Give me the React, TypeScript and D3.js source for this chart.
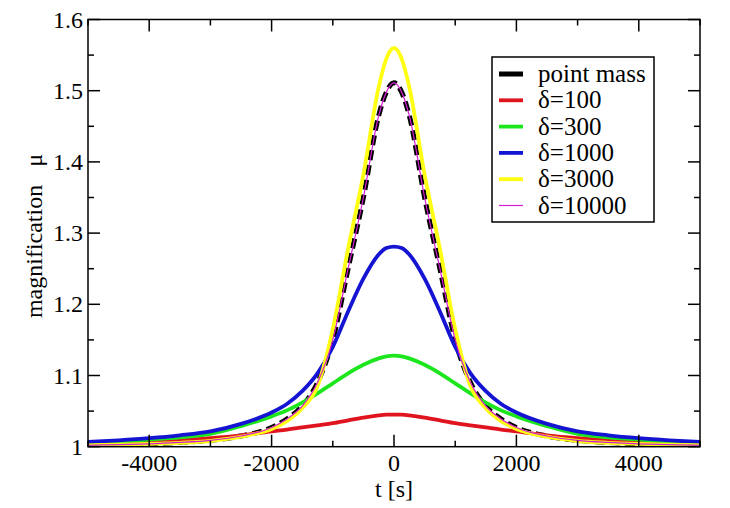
import * as d3 from 'd3';

const T_VALUES = [
  -5000, -4500, -4000, -3500, -3000, -2500, -2000, -1750, -1500, -1250, -1000, -750, -500, -250, -125,
  0, 125, 250, 500, 750, 1000, 1250, 1500, 1750, 2000, 2500, 3000, 3500, 4000, 4500, 5000,
];

const POINT_MASS = [
  1.002, 1.003, 1.004, 1.006, 1.009, 1.015, 1.027, 1.039, 1.057, 1.09, 1.15, 1.25, 1.35, 1.465, 1.498,
  1.511, 1.498, 1.465, 1.35, 1.25, 1.15, 1.09, 1.057, 1.039, 1.027, 1.015, 1.009, 1.006, 1.004, 1.003, 1.002,
];
const DELTA_100 = [
  1.003, 1.0045, 1.006, 1.009, 1.012, 1.016, 1.0215, 1.024, 1.027, 1.03, 1.033, 1.037, 1.041, 1.044, 1.045,
  1.045, 1.045, 1.044, 1.041, 1.037, 1.033, 1.03, 1.027, 1.024, 1.0215, 1.016, 1.012, 1.009, 1.006, 1.0045, 1.003,
];
const DELTA_300 = [
  1.005, 1.007, 1.0098, 1.013, 1.018, 1.029, 1.0426, 1.051, 1.062, 1.075, 1.089, 1.103, 1.115, 1.124, 1.127,
  1.128, 1.127, 1.124, 1.115, 1.103, 1.089, 1.075, 1.062, 1.051, 1.0426, 1.029, 1.018, 1.013, 1.0098, 1.007, 1.005,
];
const DELTA_1000 = [
  1.0066, 1.009, 1.012, 1.016, 1.0215, 1.032, 1.048, 1.06, 1.078, 1.103, 1.14, 1.19, 1.236, 1.27, 1.279,
  1.281, 1.279, 1.27, 1.236, 1.19, 1.14, 1.103, 1.078, 1.06, 1.048, 1.032, 1.0215, 1.016, 1.012, 1.009, 1.0066,
];
const DELTA_3000 = [
  1.002, 1.003, 1.004, 1.0055, 1.008, 1.014, 1.025, 1.036, 1.054, 1.085, 1.165, 1.278, 1.382, 1.505, 1.545,
  1.56, 1.545, 1.505, 1.382, 1.278, 1.165, 1.085, 1.054, 1.036, 1.025, 1.014, 1.008, 1.0055, 1.004, 1.003, 1.002,
];
const DELTA_10000 = [
  1.002, 1.003, 1.004, 1.006, 1.009, 1.015, 1.027, 1.039, 1.057, 1.09, 1.15, 1.25, 1.35, 1.465, 1.498,
  1.511, 1.498, 1.465, 1.35, 1.25, 1.15, 1.09, 1.057, 1.039, 1.027, 1.015, 1.009, 1.006, 1.004, 1.003, 1.002,
];

const X_MAJOR = [-4000, -2000, 0, 2000, 4000];
const X_MINOR = [-5000, -3000, -1000, 1000, 3000, 5000];
const Y_MAJOR = [1, 1.1, 1.2, 1.3, 1.4, 1.5, 1.6];
const Y_MINOR = [1.05, 1.15, 1.25, 1.35, 1.45, 1.55];
const Y_LABELS = ['1', '1.1', '1.2', '1.3', '1.4', '1.5', '1.6'];

const SERIES = [
  { label: 'point mass', values: POINT_MASS, color: '#000000', width: 5, dash: '10,5' },
  { label: 'δ=100', values: DELTA_100, color: '#e0141e', width: 3.8, dash: null },
  { label: 'δ=300', values: DELTA_300, color: '#1ee61e', width: 3.8, dash: null },
  { label: 'δ=1000', values: DELTA_1000, color: '#1414d2', width: 3.8, dash: null },
  { label: 'δ=3000', values: DELTA_3000, color: '#ffff14', width: 3.8, dash: null },
  { label: 'δ=10000', values: DELTA_10000, color: '#d21ed2', width: 1.2, dash: null },
];

const W = 730;
const H = 508;
const margin = { left: 88, right: 30, top: 19.5, bottom: 61.3 };
const FONT = '"Liberation Serif", "Times New Roman", Times, Tinos, "Nimbus Roman", "Nimbus Roman No9 L", "Noto Serif", "DejaVu Serif", FreeSerif, serif';

export default function App() {
  const x = d3.scaleLinear().domain([-5000, 5000]).range([margin.left, W - margin.right]);
  const y = d3.scaleLinear().domain([1, 1.6]).range([H - margin.bottom, margin.top]);
  const [x0, x1] = x.range();
  const [y0, y1] = y.range();

  const line = (vals: number[]) =>
    d3.line<number>()
      .x((_, i) => x(T_VALUES[i]))
      .y(v => y(v))
      .curve(d3.curveMonotoneX)(vals) || '';

  const legendX = 492;
  const legendY = 57;

  return (
    <svg width={W} height={H} style={{ position: 'absolute', left: 0, top: 0, background: '#fff' }}>
      <defs>
        <clipPath id="plot">
          <rect x={x0} y={y1} width={x1 - x0} height={y0 - y1} />
        </clipPath>
      </defs>

      {/* curves */}
      <g clipPath="url(#plot)">
        {SERIES.map(s => (
          <path key={s.label} d={line(s.values)} fill="none" stroke={s.color}
            strokeWidth={s.width} strokeDasharray={s.dash || undefined} />
        ))}
      </g>

      {/* frame */}
      <rect x={x0} y={y1} width={x1 - x0} height={y0 - y1} fill="none" stroke="#000" strokeWidth={1.5} />

      {/* ticks, all four sides, inward */}
      {X_MAJOR.map(t => (
        <g key={'xM' + t}>
          <line x1={x(t)} x2={x(t)} y1={y0} y2={y0 - 12} stroke="#000" strokeWidth={1.5} />
          <line x1={x(t)} x2={x(t)} y1={y1} y2={y1 + 12} stroke="#000" strokeWidth={1.5} />
        </g>
      ))}
      {X_MINOR.map(t => (
        <g key={'xm' + t}>
          <line x1={x(t)} x2={x(t)} y1={y0} y2={y0 - 6} stroke="#000" strokeWidth={1.5} />
          <line x1={x(t)} x2={x(t)} y1={y1} y2={y1 + 6} stroke="#000" strokeWidth={1.5} />
        </g>
      ))}
      {Y_MAJOR.map(v => (
        <g key={'yM' + v}>
          <line x1={x0} x2={x0 + 12} y1={y(v)} y2={y(v)} stroke="#000" strokeWidth={1.5} />
          <line x1={x1} x2={x1 - 12} y1={y(v)} y2={y(v)} stroke="#000" strokeWidth={1.5} />
        </g>
      ))}
      {Y_MINOR.map(v => (
        <g key={'ym' + v}>
          <line x1={x0} x2={x0 + 6} y1={y(v)} y2={y(v)} stroke="#000" strokeWidth={1.5} />
          <line x1={x1} x2={x1 - 6} y1={y(v)} y2={y(v)} stroke="#000" strokeWidth={1.5} />
        </g>
      ))}

      <g fontFamily={FONT}>
        {/* tick labels */}
        {X_MAJOR.map(t => (
          <text key={'xl' + t} x={x(t)} y={471} textAnchor="middle" fontSize={24}>{t}</text>
        ))}
        {Y_MAJOR.map((v, i) => (
          <text key={'yl' + v} x={83} y={y(v) + 8} textAnchor="end" fontSize={24}>{Y_LABELS[i]}</text>
        ))}

        {/* axis titles */}
        <text x={(x0 + x1) / 2} y={497} textAnchor="middle" fontSize={24}>t [s]</text>
        <text transform="translate(42,236) rotate(-90)" textAnchor="middle" fontSize={24}
          style={{ whiteSpace: 'pre' }}>{'magnification   μ'}</text>

        {/* legend */}
        <rect x={legendX} y={legendY} width={162} height={165} fill="#fff" stroke="#000" strokeWidth={1.5} />
        {SERIES.map((s, i) => {
          const ly = 74 + i * 26.3;
          return (
            <g key={'lg' + s.label}>
              <line x1={499} x2={523} y1={ly} y2={ly} stroke={s.color} strokeWidth={s.width} />
              <text x={538} y={ly + 8} fontSize={25}>{s.label}</text>
            </g>
          );
        })}
      </g>
    </svg>
  );
}
